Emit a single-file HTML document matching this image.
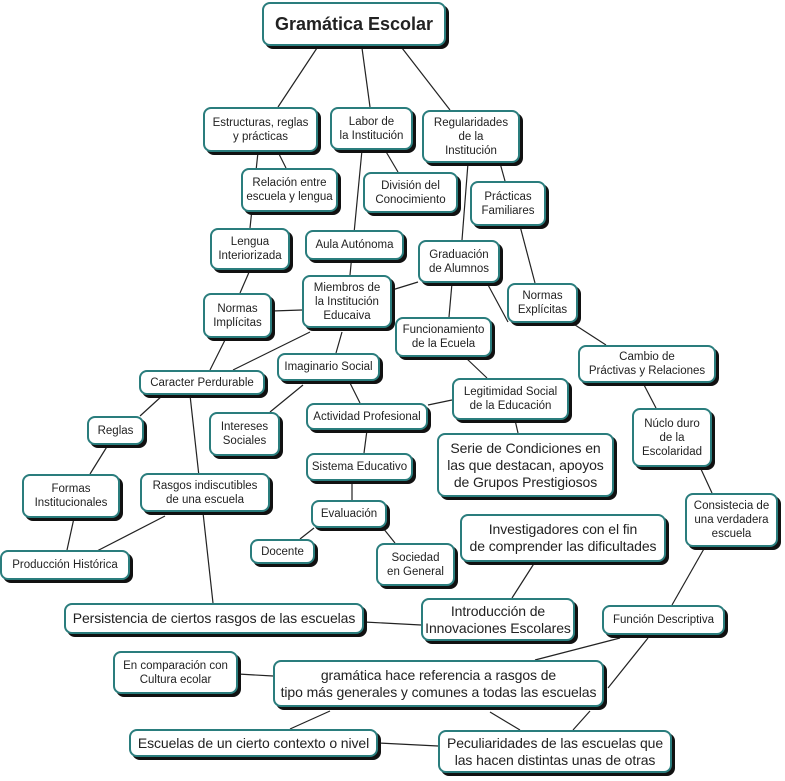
<!DOCTYPE html>
<html><head><meta charset="utf-8"><style>
body{margin:0;width:785px;height:781px;background:#fff;position:relative;overflow:hidden;font-family:"Liberation Sans",sans-serif;color:#222}
.n{position:absolute;box-sizing:border-box;border:2px solid #2a7d7d;border-radius:8px;background:#fff;box-shadow:3px 3px 0 #111;display:flex;align-items:center;justify-content:center;text-align:center;font-size:11.5px;line-height:14px;white-space:nowrap}
.b{font-size:14px;line-height:17px;letter-spacing:-0.1px}
svg{position:absolute;left:0;top:0}
</style></head><body>
<svg width="785" height="781" stroke="#222" stroke-width="1.2">
<line x1="317" y1="48" x2="278" y2="107"/><line x1="362" y1="48" x2="370" y2="107"/><line x1="402" y1="48" x2="450" y2="110"/>
<line x1="258" y1="152" x2="250" y2="228"/><line x1="278" y1="152" x2="286" y2="168"/>
<line x1="362" y1="150" x2="350" y2="275"/><line x1="385" y1="150" x2="398" y2="172"/>
<line x1="468" y1="163" x2="462" y2="240"/><line x1="500" y1="163" x2="505" y2="181"/>
<line x1="520" y1="226" x2="535" y2="283"/><line x1="250" y1="270" x2="240" y2="293"/>
<line x1="418" y1="282" x2="392" y2="290"/><line x1="452" y1="283" x2="449" y2="317"/>
<line x1="487" y1="283" x2="508" y2="322"/><line x1="572" y1="323" x2="606" y2="345"/>
<line x1="272" y1="311" x2="302" y2="310"/><line x1="226" y1="338" x2="210" y2="370"/>
<line x1="310" y1="332" x2="233" y2="370"/><line x1="342" y1="332" x2="336" y2="353"/>
<line x1="466" y1="358" x2="487" y2="378"/><line x1="643" y1="383" x2="656" y2="408"/>
<line x1="700" y1="467" x2="712" y2="493"/><line x1="303" y1="385" x2="270" y2="412"/>
<line x1="350" y1="383" x2="360" y2="403"/><line x1="428" y1="405" x2="452" y2="400"/>
<line x1="367" y1="430" x2="364" y2="453"/><line x1="515" y1="420" x2="518" y2="433"/>
<line x1="352" y1="481" x2="352" y2="500"/><line x1="314" y1="528" x2="300" y2="539"/>
<line x1="383" y1="528" x2="395" y2="543"/><line x1="163" y1="395" x2="140" y2="416"/>
<line x1="190" y1="395" x2="213" y2="603"/><line x1="108" y1="445" x2="90" y2="474"/>
<line x1="74" y1="518" x2="67" y2="550"/><line x1="165" y1="516" x2="95" y2="552"/>
<line x1="535" y1="562" x2="512" y2="598"/><line x1="364" y1="622" x2="421" y2="625"/>
<line x1="705" y1="547" x2="672" y2="605"/><line x1="620" y1="638" x2="535" y2="660"/>
<line x1="648" y1="638" x2="608" y2="688"/><line x1="238" y1="674" x2="273" y2="676"/>
<line x1="330" y1="711" x2="290" y2="729"/><line x1="490" y1="712" x2="520" y2="730"/>
<line x1="590" y1="711" x2="573" y2="730"/><line x1="378" y1="743" x2="438" y2="746"/>
</svg>
<div class="n" style="left:262px;top:2px;width:184px;height:44px;font-size:18px;font-weight:bold">Gramática Escolar</div>
<div class="n" style="left:203px;top:107px;width:115px;height:45px">Estructuras, reglas<br>y prácticas</div>
<div class="n" style="left:330px;top:107px;width:83px;height:43px">Labor de<br>la Institución</div>
<div class="n" style="left:422px;top:110px;width:98px;height:53px">Regularidades<br>de la<br>Institución</div>
<div class="n" style="left:241px;top:168px;width:97px;height:44px">Relación entre<br>escuela y lengua</div>
<div class="n" style="left:363px;top:172px;width:95px;height:41px">División del<br>Conocimiento</div>
<div class="n" style="left:470px;top:181px;width:76px;height:45px">Prácticas<br>Familiares</div>
<div class="n" style="left:210px;top:228px;width:80px;height:42px">Lengua<br>Interiorizada</div>
<div class="n" style="left:305px;top:230px;width:99px;height:30px">Aula Autónoma</div>
<div class="n" style="left:418px;top:240px;width:82px;height:43px">Graduación<br>de Alumnos</div>
<div class="n" style="left:302px;top:275px;width:90px;height:53px">Miembros de<br>la Institución<br>Educaiva</div>
<div class="n" style="left:203px;top:293px;width:69px;height:45px">Normas<br>Implícitas</div>
<div class="n" style="left:507px;top:283px;width:71px;height:40px">Normas<br>Explícitas</div>
<div class="n" style="left:395px;top:317px;width:97px;height:40px">Funcionamiento<br>de la Ecuela</div>
<div class="n" style="left:578px;top:345px;width:138px;height:38px">Cambio de<br>Práctivas y Relaciones</div>
<div class="n" style="left:139px;top:370px;width:126px;height:25px">Caracter Perdurable</div>
<div class="n" style="left:277px;top:353px;width:103px;height:28px">Imaginario Social</div>
<div class="n" style="left:452px;top:378px;width:117px;height:42px">Legitimidad Social<br>de la Educación</div>
<div class="n" style="left:306px;top:403px;width:122px;height:27px">Actividad Profesional</div>
<div class="n" style="left:209px;top:412px;width:71px;height:44px">Intereses<br>Sociales</div>
<div class="n" style="left:87px;top:416px;width:57px;height:29px">Reglas</div>
<div class="n" style="left:632px;top:408px;width:80px;height:59px">Núclo duro<br>de la<br>Escolaridad</div>
<div class="n b" style="left:437px;top:433px;width:177px;height:64px">Serie de Condiciones en<br>las que destacan, apoyos<br>de Grupos Prestigiosos</div>
<div class="n" style="left:306px;top:453px;width:107px;height:28px">Sistema Educativo</div>
<div class="n" style="left:22px;top:474px;width:98px;height:44px">Formas<br>Institucionales</div>
<div class="n" style="left:140px;top:473px;width:130px;height:39px">Rasgos indiscutibles<br>de una escuela</div>
<div class="n" style="left:311px;top:500px;width:76px;height:28px">Evaluación</div>
<div class="n" style="left:685px;top:493px;width:93px;height:54px">Consistecia de<br>una verdadera<br>escuela</div>
<div class="n b" style="left:460px;top:514px;width:206px;height:48px">Investigadores con el fin<br>de comprender las dificultades</div>
<div class="n" style="left:250px;top:539px;width:65px;height:25px">Docente</div>
<div class="n" style="left:376px;top:543px;width:79px;height:43px">Sociedad<br>en General</div>
<div class="n" style="left:0px;top:550px;width:130px;height:30px">Producción Histórica</div>
<div class="n b" style="left:64px;top:603px;width:300px;height:31px">Persistencia de ciertos rasgos de las escuelas</div>
<div class="n b" style="left:421px;top:598px;width:154px;height:43px">Introducción de<br>Innovaciones Escolares</div>
<div class="n" style="left:602px;top:605px;width:123px;height:30px">Función Descriptiva</div>
<div class="n" style="left:113px;top:651px;width:125px;height:43px">En comparación con<br>Cultura ecolar</div>
<div class="n b" style="left:273px;top:660px;width:331px;height:47px">gramática hace referencia a rasgos de<br>tipo más generales y comunes a todas las escuelas</div>
<div class="n b" style="left:129px;top:729px;width:249px;height:28px">Escuelas de un cierto contexto o nivel</div>
<div class="n b" style="left:438px;top:730px;width:234px;height:43px">Peculiaridades de las escuelas que<br>las hacen distintas unas de otras</div>
</body></html>
